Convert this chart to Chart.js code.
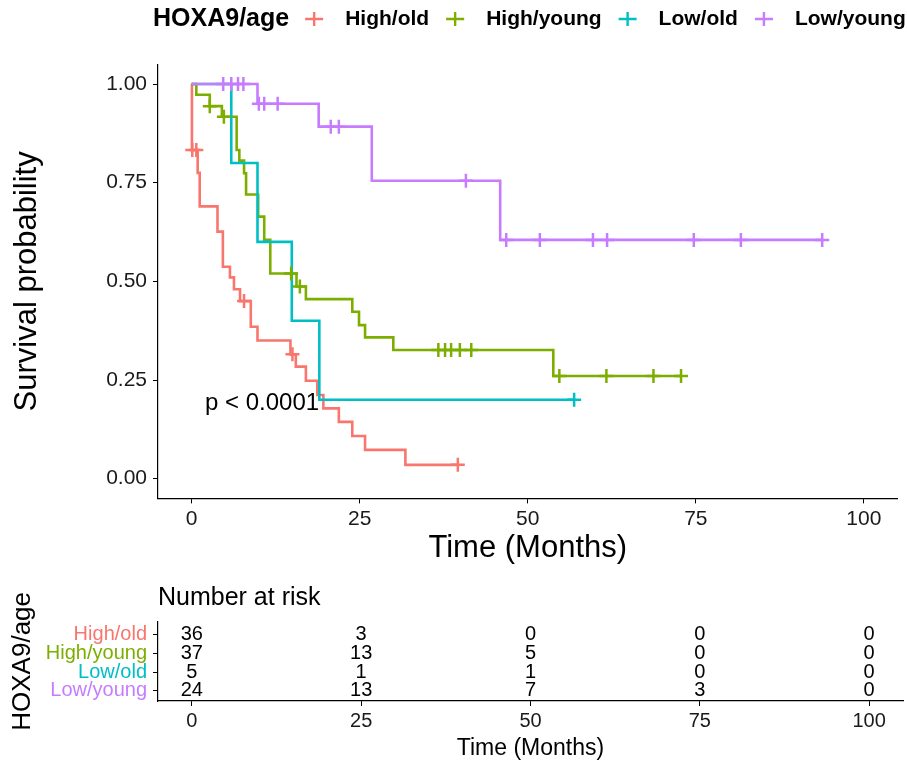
<!DOCTYPE html>
<html>
<head>
<meta charset="utf-8">
<script src="https://cdn.jsdelivr.net/npm/chart.js@4.4.1/dist/chart.umd.min.js"></script>
<style>
  body { margin: 0; background: #fff; }
  #wrap { position: relative; width: 907px; height: 767px; }
  canvas { position: absolute; left: 0; }
</style>
</head>
<body>
<div id="wrap">
  <canvas id="km" width="907" height="575" style="top:0"></canvas>
  <canvas id="risk" width="907" height="192" style="top:575px"></canvas>
</div>
<script>
const legendTitle = 'HOXA9/age';
const groups = ['High/old', 'High/young', 'Low/old', 'Low/young'];
const colors = ['#F8766D', '#7CAE00', '#00BFC4', '#C77CFF'];

// step points: time of each drop and survival right after it (first = start, last = end of follow-up)
const highOldTime = [0, 0.05, 0.9, 1.2, 3.85, 4.65, 5.7, 6.3, 7.2, 8.8, 9.8, 14.7, 15.5, 17.0, 18.7, 19.6, 21.9, 23.9, 25.8, 31.8, 39.6];
const highOldSurv = [1, 0.833, 0.775, 0.69, 0.626, 0.537, 0.51, 0.48, 0.45, 0.385, 0.35, 0.315, 0.284, 0.248, 0.212, 0.178, 0.144, 0.108, 0.073, 0.035, 0.035];
const highOldCens = [0.1, 0.7, 7.8, 15.0, 39.6];

const highYoungTime = [0, 0.7, 2.7, 4.5, 6.7, 7.1, 7.8, 8.1, 9.9, 10.8, 11.7, 15.6, 17.0, 23.9, 24.9, 25.8, 30.0, 53.8, 72.8];
const highYoungSurv = [1, 0.973, 0.944, 0.917, 0.833, 0.806, 0.774, 0.72, 0.664, 0.605, 0.52, 0.487, 0.455, 0.423, 0.389, 0.358, 0.326, 0.26, 0.26];
const highYoungCens = [2.7, 4.8, 14.8, 16.1, 36.7, 37.7, 38.6, 39.9, 41.6, 54.7, 61.7, 68.7, 72.8];

const lowOldTime = [0, 5.9, 9.8, 14.9, 19.0, 56.9];
const lowOldSurv = [1, 0.8, 0.6, 0.4, 0.2, 0.2];
const lowOldCens = [56.9];

const lowYoungTime = [0, 9.8, 18.9, 26.8, 45.9, 93.8];
const lowYoungSurv = [1, 0.95, 0.892, 0.755, 0.605, 0.605];
const lowYoungCens = [4.7, 5.9, 6.9, 7.7, 10.0, 10.8, 12.8, 20.7, 21.9, 40.8, 46.8, 51.8, 59.7, 61.8, 74.7, 81.7, 93.8];

const xTicks = [0, 25, 50, 75, 100];
const yTicks = [0, 0.25, 0.5, 0.75, 1];
const pText = 'p < 0.0001';

const riskTimes = [0, 25, 50, 75, 100];
const riskHighOld = [36, 3, 0, 0, 0];
const riskHighYoung = [37, 13, 5, 0, 0];
const riskLowOld = [5, 1, 1, 0, 0];
const riskLowYoung = [24, 13, 7, 3, 0];

const FONT = '"Liberation Sans", Arial, sans-serif';
Chart.defaults.font.family = FONT;
Chart.defaults.color = '#1a1a1a';

function survAt(times, surv, t) {
  let v = surv[0];
  for (let i = 0; i < times.length; i++) if (times[i] <= t) v = surv[i];
  return v;
}

const curves = [
  { t: highOldTime, s: highOldSurv, c: highOldCens },
  { t: highYoungTime, s: highYoungSurv, c: highYoungCens },
  { t: lowOldTime, s: lowOldSurv, c: lowOldCens },
  { t: lowYoungTime, s: lowYoungSurv, c: lowYoungCens }
];

const kmData = [];
curves.forEach((g, i) => {
  kmData.push({
    label: groups[i],
    data: g.t.map((t, k) => ({ x: t, y: g.s[k] })),
    borderColor: colors[i],
    borderWidth: 2.6,
    stepped: true,
    pointRadius: 0,
    fill: false,
    order: 10 - i
  });
  kmData.push({
    label: groups[i] + ' (censored)',
    data: g.c.map(t => ({ x: t, y: survAt(g.t, g.s, t) })),
    showLine: false,
    pointStyle: 'cross',
    pointRadius: 7,
    pointBorderWidth: 2.5,
    borderColor: colors[i],
    order: 4 - i
  });
});

// legend row drawn across the top, ggplot style
const kmLegend = {
  id: 'kmLegend',
  afterDraw(chart) {
    const ctx = chart.ctx;
    const cy = 19;
    ctx.save();
    ctx.textBaseline = 'middle';
    ctx.textAlign = 'left';
    ctx.fillStyle = '#000';
    ctx.font = 'bold 25px ' + FONT;
    let x = 153;
    ctx.fillText(legendTitle, x, cy);
    x += ctx.measureText(legendTitle).width + 25;
    ctx.font = 'bold 21px ' + FONT;
    groups.forEach((g, i) => {
      ctx.strokeStyle = colors[i];
      ctx.lineWidth = 2.4;
      ctx.beginPath();
      ctx.moveTo(x - 9, cy); ctx.lineTo(x + 9, cy);
      ctx.moveTo(x, cy - 7); ctx.lineTo(x, cy + 7);
      ctx.stroke();
      ctx.fillStyle = '#000';
      ctx.fillText(g, x + 31, cy);
      x += 31 + ctx.measureText(g).width + 26;
    });
    ctx.restore();
  }
};

const pLabel = {
  id: 'pLabel',
  afterDatasetsDraw(chart) {
    const ctx = chart.ctx;
    ctx.save();
    ctx.font = '24px ' + FONT;
    ctx.fillStyle = '#000';
    ctx.textAlign = 'left';
    ctx.textBaseline = 'middle';
    ctx.fillText(pText, chart.scales.x.getPixelForValue(2), chart.scales.y.getPixelForValue(0.19));
    ctx.restore();
  }
};

new Chart(document.getElementById('km'), {
  type: 'line',
  data: { datasets: kmData },
  options: {
    responsive: false,
    animation: false,
    layout: { padding: { top: 64.3, right: 4, left: 0, bottom: 0 } },
    plugins: { legend: { display: false }, tooltip: { enabled: false } },
    scales: {
      x: {
        type: 'linear', min: -5, max: 105,
        afterBuildTicks: s => { s.ticks = xTicks.map(v => ({ value: v })); },
        afterFit: s => { s.height = 76.6; },
        grid: { drawOnChartArea: false, tickLength: 5, color: '#000' },
        border: { display: true, color: '#000', width: 1.2 },
        ticks: { font: { size: 21 }, padding: 3, maxRotation: 0, autoSkip: false, callback: v => String(v) },
        title: { display: true, text: 'Time (Months)', color: '#000', font: { size: 31 }, padding: { top: 0, bottom: 8 } }
      },
      y: {
        type: 'linear', min: -0.05, max: 1.05,
        afterBuildTicks: s => { s.ticks = yTicks.map(v => ({ value: v })); },
        afterFit: s => { s.width = 158; },
        grid: { drawOnChartArea: false, tickLength: 5, color: '#000' },
        border: { display: true, color: '#000', width: 1.2 },
        ticks: { font: { size: 21 }, padding: 6, autoSkip: false, callback: v => v.toFixed(2) },
        title: { display: true, text: 'Survival probability', color: '#000', font: { size: 31 }, padding: { top: 9, bottom: 0 } }
      }
    }
  },
  plugins: [kmLegend, pLabel]
});

// risk table
const riskRows = [riskHighOld, riskHighYoung, riskLowOld, riskLowYoung];

const riskNumbers = {
  id: 'riskNumbers',
  afterDatasetsDraw(chart) {
    const ctx = chart.ctx;
    ctx.save();
    ctx.font = '20px ' + FONT;
    ctx.fillStyle = '#000';
    ctx.textAlign = 'center';
    ctx.textBaseline = 'middle';
    chart.data.datasets.forEach((ds, i) => {
      chart.getDatasetMeta(i).data.forEach((el, k) => {
        ctx.fillText(String(riskRows[i][k]), el.x, el.y);
      });
    });
    ctx.font = '25px ' + FONT;
    ctx.textAlign = 'left';
    ctx.fillText('Number at risk', chart.chartArea.left, 23);
    ctx.restore();
  }
};

new Chart(document.getElementById('risk'), {
  type: 'line',
  data: {
    datasets: riskRows.map((r, i) => ({
      label: groups[i],
      data: riskTimes.map(t => ({ x: t, y: groups.length - i })),
      showLine: false,
      pointRadius: 0
    }))
  },
  options: {
    responsive: false,
    animation: false,
    layout: { padding: { top: 46.7, right: 4, left: 0, bottom: 0 } },
    plugins: { legend: { display: false }, tooltip: { enabled: false } },
    scales: {
      x: {
        type: 'linear', min: -5, max: 105,
        afterBuildTicks: s => { s.ticks = xTicks.map(v => ({ value: v })); },
        afterFit: s => { s.height = 66; },
        grid: { drawOnChartArea: false, tickLength: 5, color: '#000' },
        border: { display: true, color: '#000', width: 1.2 },
        ticks: { font: { size: 20 }, padding: 3, maxRotation: 0, autoSkip: false, callback: v => String(v) },
        title: { display: true, text: 'Time (Months)', color: '#000', font: { size: 23 }, padding: { top: 0, bottom: 5 } }
      },
      y: {
        type: 'linear', min: 0.46, max: 4.71,
        afterBuildTicks: s => { s.ticks = [4, 3, 2, 1].map(v => ({ value: v })); },
        afterFit: s => { s.width = 158; },
        grid: { drawOnChartArea: false, tickLength: 5, color: '#000' },
        border: { display: true, color: '#000', width: 1.2 },
        ticks: {
          font: { size: 20 }, padding: 6, autoSkip: false,
          color: c => colors[groups.length - c.tick.value],
          callback: v => groups[groups.length - v]
        },
        title: { display: true, text: legendTitle, color: '#000', font: { size: 26 }, padding: { top: 7, bottom: 0 } }
      }
    }
  },
  plugins: [riskNumbers]
});
</script>
</body>
</html>
